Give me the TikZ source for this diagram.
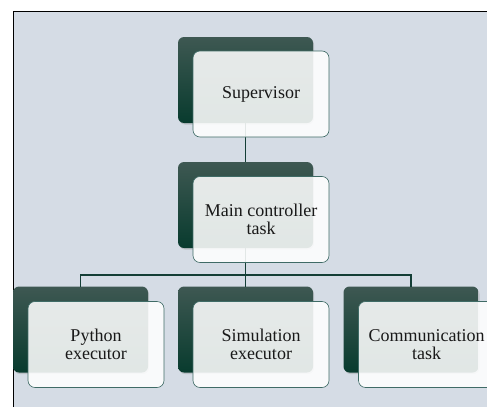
\documentclass[tikz,border=0pt]{standalone}
\usepackage{fontspec}
\setmainfont{Liberation Serif}
\usetikzlibrary{shadows}

\definecolor{panel}{RGB}{213,220,229}
\definecolor{boxtop}{RGB}{62,88,82}
\definecolor{boxbot}{RGB}{8,59,46}
\definecolor{edge}{RGB}{63,107,102}
\definecolor{wire}{RGB}{20,62,54}

\begin{document}
\begin{tikzpicture}[x=1pt,y=-1pt,
  back box/.style={
    rounded corners=6pt,
    minimum width=135pt, minimum height=86pt,
    inner sep=0pt, outer sep=0pt,
    top color=boxtop, middle color=boxbot, bottom color=boxbot,
    drop shadow={opacity=0.3, shadow xshift=1pt, shadow yshift=-1.5pt},
  },
  front box/.style={
    rounded corners=7pt,
    minimum width=136pt, minimum height=86pt,
    inner sep=0pt, outer sep=0pt,
    draw=edge, line width=0.6pt,
    fill=white, fill opacity=0.88, text opacity=1,
    text=black!90, align=center,
    font=\fontsize{18}{18}\selectfont,
  },
  link/.style={draw=wire, line width=1.2pt},
  ]
  \useasboundingbox (0,0) rectangle (487,407);
  \fill[panel] (13,11) rectangle (487,407);
  \draw[line width=0.8pt] (13,407) -- (13,11) -- (487,11);

  % dark cards
  \node[back box] (supB) at (245.5,80) {};
  \node[back box] (mainB) at (245.5,205) {};
  \node[back box] (pyB) at (80.5,329.5) {};
  \node[back box] (simB) at (245.5,329.5) {};
  \node[back box] (comB) at (411,329.5) {};

  % wiring
  \coordinate (bus) at (245.5,275);
  \draw[link] (supB.south) -- (mainB.north);
  \draw[link] (mainB.south) -- (simB.north);
  \draw[link] (pyB.north) |- (bus) -| (comB.north);

  % front cards
  \node[front box] (sup) at (261,94) {Supervisor};
  \node[front box] (main) at (261,219.5) {Main controller\\task};
  \node[front box] (py) at (96,344.5) {Python\\executor};
  \node[front box] (sim) at (261,344.5) {Simulation\\executor};
  \node[front box] (com) at (426.5,344.5) {Communication\\task};
\end{tikzpicture}
\end{document}
